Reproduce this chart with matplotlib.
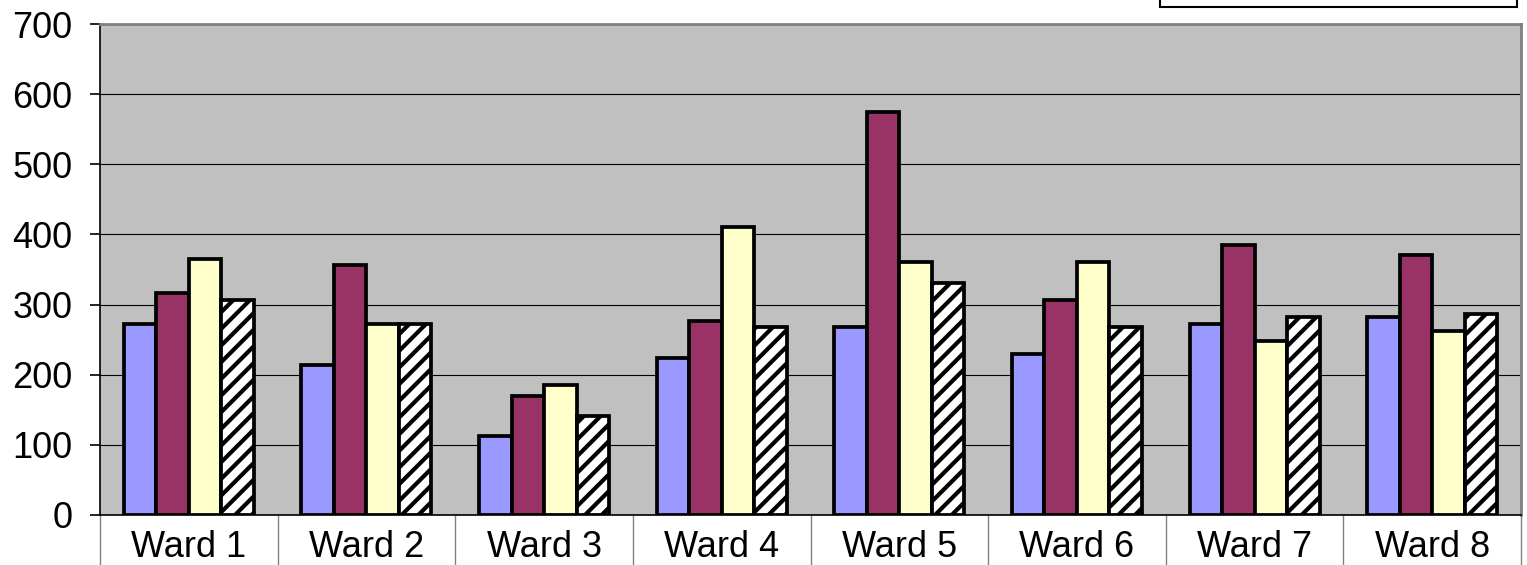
import matplotlib

matplotlib.use("Agg")
import matplotlib.pyplot as plt
import numpy as np
from matplotlib.patches import Rectangle

plt.rcParams["font.family"] = ["Liberation Sans", "DejaVu Sans"]
plt.rcParams["hatch.linewidth"] = 3.0

wards = ["Ward 1", "Ward 2", "Ward 3", "Ward 4", "Ward 5", "Ward 6", "Ward 7", "Ward 8"]
series_a = [272, 214, 112, 224, 268, 229, 273, 282]
series_b = [316, 356, 170, 277, 575, 307, 385, 370]
series_c = [365, 273, 185, 410, 360, 360, 248, 263]
series_d = [306, 272, 141, 268, 331, 268, 282, 287]
yticks = [0, 100, 200, 300, 400, 500, 600, 700]

fig = plt.figure(figsize=(15.27, 5.65), dpi=100, facecolor="white")
ax = fig.add_axes([100 / 1527, 50 / 565, 1421 / 1527, 491 / 565])
ax.set_facecolor("#C0C0C0")

x = np.arange(len(wards))
w = 0.183
styles = [
    (series_a, "#9999FF", None),
    (series_b, "#993366", None),
    (series_c, "#FFFFCC", None),
    (series_d, "white", "//"),
]
for i, (vals, col, hatch) in enumerate(styles):
    ax.bar(x + (i - 1.5) * w, vals, width=w, color=col, edgecolor="black",
           linewidth=2.7, hatch=hatch, zorder=3)

ax.set_xlim(-0.5, len(wards) - 0.5)
ax.set_ylim(0, 700)
ax.set_yticks(yticks)
ax.set_yticklabels([str(v) for v in yticks], fontsize=26)
ax.grid(axis="y", color="black", linewidth=0.8, zorder=1)

ax.set_xticks(x)
ax.set_xticklabels(wards, fontsize=26)
ax.set_xticks(np.arange(-0.5, len(wards), 1), minor=True)
ax.tick_params(axis="x", which="major", length=0, pad=11)
ax.tick_params(axis="x", which="minor", length=40, width=1, color="#808080")
ax.tick_params(axis="y", length=7, width=1.2, color="black", pad=13)

for s in ("top", "right"):
    ax.spines[s].set_color("#808080")
    ax.spines[s].set_linewidth(2)
ax.spines["left"].set_color("black")
ax.spines["left"].set_linewidth(1.2)
ax.spines["bottom"].set_color("black")
ax.spines["bottom"].set_linewidth(1.2)

# legend box cut off at the top edge
fig.patches.append(Rectangle((1160 / 1527, 558 / 565), 357 / 1527, 0.05,
                             transform=fig.transFigure, facecolor="white",
                             edgecolor="black", linewidth=1.5))

fig.savefig("out.png", dpi=100, facecolor="white")
